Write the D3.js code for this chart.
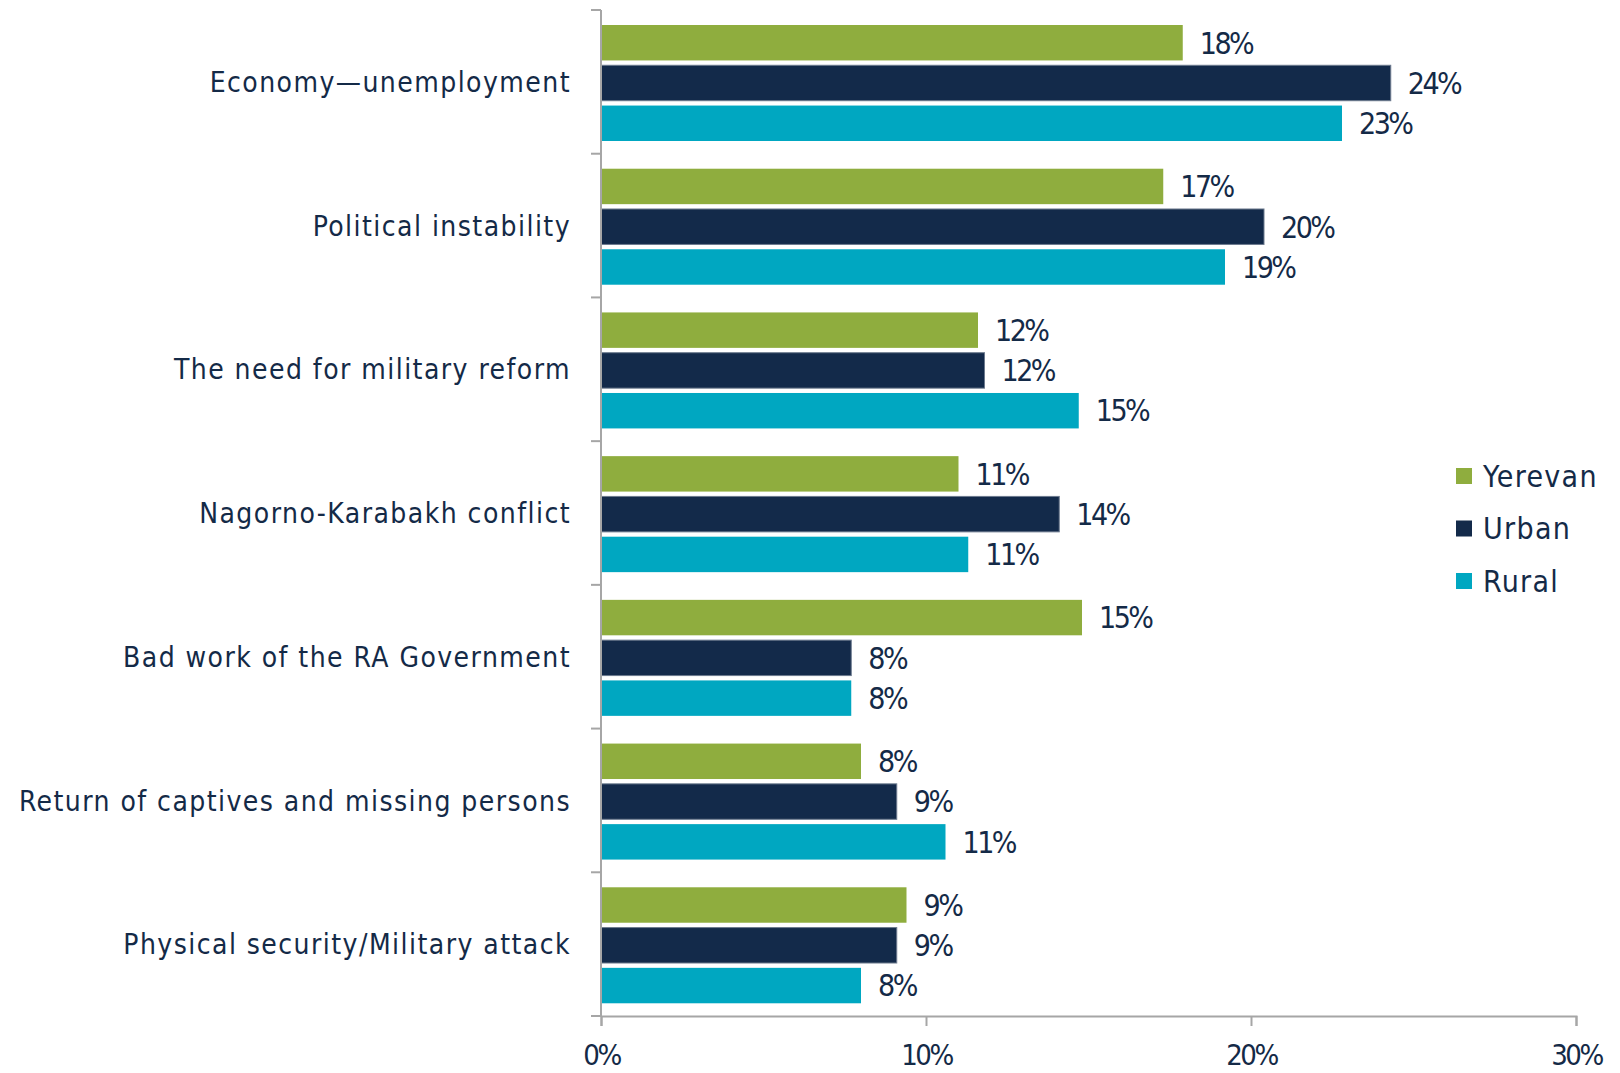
<!DOCTYPE html>
<html>
<head>
<meta charset="utf-8">
<script src="https://cdn.jsdelivr.net/npm/d3@7"></script>
<style>
  body { margin: 0; background: #fff; }
  svg { display: block; }
</style>
</head>
<body>
<svg width="1620" height="1073"></svg>
<script>
// Dữ liệu
const categories = [
    "Economy\u2014unemployment",
    "Political instability",
    "The need for military reform",
    "Nagorno-Karabakh conflict",
    "Bad work of the RA Government",
    "Return of captives and missing persons",
    "Physical security/Military attack"
];
const seriesNames = ["Yerevan", "Urban", "Rural"];
const yerevan = [17.9, 17.3, 11.6, 11.0, 14.8, 8.0, 9.4];
const urban = [24.3, 20.4, 11.8, 14.1, 7.7, 9.1, 9.1];
const rural = [22.8, 19.2, 14.7, 11.3, 7.7, 10.6, 8.0];
const xTicks = [0, 10, 20, 30];

const colors = { Yerevan: "#8fad3e", Urban: "#132a4a", Rural: "#00a7c1" };
const textColor = "#142a47";
const axisColor = "#a6a6a6";
const labelFont = "'DejaVu Sans Condensed', sans-serif";

const seriesValues = { Yerevan: yerevan, Urban: urban, Rural: rural };
const data = categories.map((c, i) => ({
    category: c,
    values: seriesNames.map(s => ({ series: s, value: seriesValues[s][i] }))
}));

const svg = d3.select("svg");

// Thang đo
const xScale = d3.scaleLinear().domain([0, 30]).range([601, 1576]);
const yScale = d3.scaleBand().domain(categories).range([10, 1016]).padding(0);
const inner = d3.scaleBand().domain(seriesNames).range([15, 131]).paddingInner(0.12);

// Nhóm cột
const groups = svg.selectAll(".group")
    .data(data)
    .enter().append("g")
    .attr("class", "group")
    .attr("transform", d => `translate(0,${yScale(d.category)})`);

groups.selectAll("rect")
    .data(d => d.values)
    .enter().append("rect")
    .attr("x", xScale(0))
    .attr("y", d => inner(d.series))
    .attr("width", d => xScale(d.value) - xScale(0))
    .attr("height", inner.bandwidth())
    .attr("fill", d => colors[d.series])
    .attr("stroke", d => d.series === "Urban" ? "#6c7a8e" : "none")
    .attr("stroke-width", 1);

// Nhãn giá trị
groups.selectAll(".label")
    .data(d => d.values)
    .enter().append("text")
    .attr("class", "label")
    .attr("x", d => xScale(d.value) + 17)
    .attr("y", d => inner(d.series) + inner.bandwidth() / 2)
    .attr("dy", "0.36em")
    .attr("fill", textColor)
    .style("font-family", labelFont)
    .style("font-size", "30px")
    .style("letter-spacing", "-2.5px")
    .text(d => `${Math.round(d.value)}%`);

// Nhãn danh mục
svg.selectAll(".cat")
    .data(categories)
    .enter().append("text")
    .attr("class", "cat")
    .attr("x", 571)
    .attr("y", d => yScale(d) + yScale.bandwidth() / 2)
    .attr("dy", "0.36em")
    .attr("text-anchor", "end")
    .attr("fill", textColor)
    .style("font-family", labelFont)
    .style("font-size", "28px")
    .style("letter-spacing", "1.45px")
    .text(d => d);

// Trục Y
const yAxis = svg.append("g");
yAxis.append("line")
    .attr("x1", xScale(0)).attr("x2", xScale(0))
    .attr("y1", 10).attr("y2", 1016)
    .attr("stroke", axisColor).attr("stroke-width", 2);
yAxis.selectAll(".ytick")
    .data(d3.range(categories.length + 1))
    .enter().append("line")
    .attr("x1", xScale(0) - 10).attr("x2", xScale(0))
    .attr("y1", i => 10 + i * yScale.step())
    .attr("y2", i => 10 + i * yScale.step())
    .attr("stroke", axisColor).attr("stroke-width", 2);

// Trục X
const xAxis = svg.append("g")
    .attr("transform", "translate(0,1016)")
    .call(d3.axisBottom(xScale).tickValues(xTicks).tickSize(10).tickPadding(18).tickFormat(d => `${d}%`));
xAxis.select(".domain").attr("stroke", axisColor).attr("stroke-width", 2);
xAxis.selectAll(".tick line").attr("stroke", axisColor).attr("stroke-width", 2);
xAxis.selectAll(".tick text")
    .attr("fill", textColor)
    .style("font-family", labelFont)
    .style("font-size", "29px")
    .style("letter-spacing", "-2.5px");

// Chú giải
const legend = svg.selectAll(".legend")
    .data(seriesNames)
    .enter().append("g")
    .attr("class", "legend")
    .attr("transform", (d, i) => `translate(1456,${468 + i * 52.5})`);
legend.append("rect")
    .attr("width", 16).attr("height", 16)
    .attr("fill", d => colors[d]);
legend.append("text")
    .attr("x", 27)
    .attr("y", 8)
    .attr("dy", "0.36em")
    .attr("fill", textColor)
    .style("font-family", labelFont)
    .style("font-size", "30px")
    .style("letter-spacing", "1.3px")
    .text(d => d);
</script>
</body>
</html>
